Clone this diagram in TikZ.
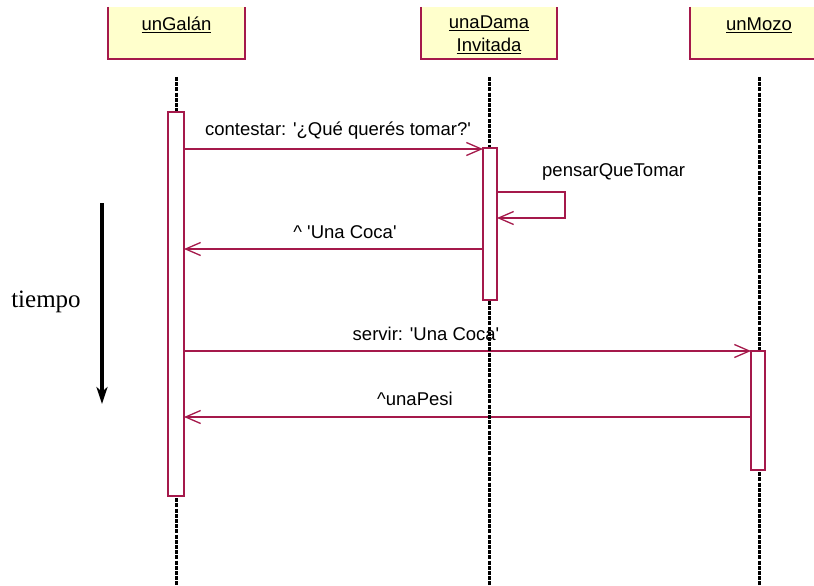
\documentclass[tikz,border=0pt]{standalone}
\usepackage{fontspec}
\setmainfont{Liberation Sans}
\newfontfamily\timesfont{Liberation Serif}
\usetikzlibrary{arrows.meta}
\definecolor{umlred}{RGB}{165,25,75}
\definecolor{umlyellow}{RGB}{255,255,204}
\newcommand{\sq}{\textquotesingle}
\tikzset{
  objbox/.style={draw=umlred, fill=umlyellow, line width=1.3pt},
  lifeline/.style={draw=black, line width=3pt, dash pattern=on 4pt off 1.2pt},
  actbar/.style={draw=umlred, fill=white, line width=1.3pt},
  msg/.style={draw=umlred, line width=1.3pt, -{Straight Barb[length=15pt,width=13pt]}},
  msglabel/.style={font=\fontsize{18.5}{21}\selectfont, inner sep=0pt},
}
\begin{document}
\begin{tikzpicture}[x=1pt, y=-1pt]
      \clip (0, 0) rectangle (814, 586);
      \fill[white] (0, 0) rectangle (814, 586);
      % objects
      \path[objbox] (108, 7) -- (108, 59) -- (245, 59) -- (245, 7);
      \path[objbox] (421, 7) -- (421, 59) -- (557, 59) -- (557, 7);
      \path[objbox] (690, 7) -- (690, 59) -- (828, 59) -- (828, 7);
      \node[msglabel] (galan) at (176.5, 25){\underline{unGalán}};
      \node[msglabel, align=center] (dama) at (489, 35){\underline{unaDama}\\[2pt]\underline{Invitada}};
      \node[msglabel] (mozo) at (759, 25){\underline{unMozo}};

      % messages
      \coordinate (c1) at (184, 149);
      \coordinate (c2) at (483, 149);
        \draw[msg](c1) to (c2);
      \coordinate (s1) at (497, 192);
      \coordinate (s2) at (497, 218);
        \draw[msg](s1) -- (565, 192) -- (565, 218) -- (s2);
      \coordinate (r1) at (483, 249);
      \coordinate (r2) at (184, 249);
        \draw[msg](r1) to (r2);
      \coordinate (v1) at (184, 351);
      \coordinate (v2) at (751, 351);
        \draw[msg](v1) to (v2);
      \coordinate (p1) at (751, 417);
      \coordinate (p2) at (184, 417);
        \draw[msg](p1) to (p2);

      \node[msglabel] (lcontestar) at (338, 131){contestar: \sq¿Qué querés tomar?\sq};
      \node[msglabel, anchor=west] (lpensar) at (542, 172){pensarQueTomar};
      \node[msglabel] (lcoca) at (345, 232){\^{} \sq Una Coca\sq};
      \node[msglabel] (lservir) at (426, 334){servir: \sq Una Coca\sq};
      \node[msglabel] (lpesi) at (415, 399){\^{}unaPesi};

      % lifelines
      \draw[lifeline](176, 77) to (176, 586);
      \draw[lifeline](489, 77) to (489, 586);
      \draw[lifeline](759, 77) to (759, 586);

      % activations
      \draw[actbar](168, 112) rectangle (184, 496);
      \draw[actbar](483, 148) rectangle (497, 300);
      \draw[actbar](751, 351) rectangle (765, 470);

      % time axis
      \coordinate (t1) at (102, 203);
      \coordinate (t2) at (102, 404);
        \draw[line width=3.2pt, -{Stealth[length=17pt,width=11pt,inset=5pt]}](t1) to (t2);
      \node[font=\timesfont\fontsize{25}{27}\selectfont, inner sep=0pt] (tiempo) at (46, 302){tiempo};
\end{tikzpicture}
\end{document}
